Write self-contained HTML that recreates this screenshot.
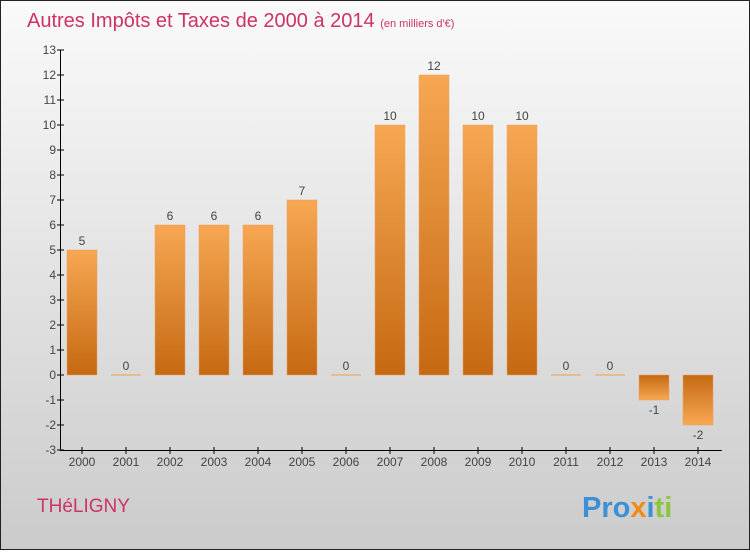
<!DOCTYPE html>
<html><head><meta charset="utf-8"><style>
html,body{margin:0;padding:0}
body{width:750px;height:550px;overflow:hidden;font-family:"Liberation Sans",sans-serif}
</style></head><body>
<svg width="750" height="550" xmlns="http://www.w3.org/2000/svg">
<defs>
<linearGradient id="bg" x1="0" y1="0" x2="0" y2="1"><stop offset="0" stop-color="#fafafa"/><stop offset="1" stop-color="#cbcbcb"/></linearGradient>
<linearGradient id="pos" x1="0" y1="0" x2="0" y2="1"><stop offset="0" stop-color="#f7a752"/><stop offset="1" stop-color="#c56912"/></linearGradient>
<linearGradient id="neg" x1="0" y1="0" x2="0" y2="1"><stop offset="0" stop-color="#c56912"/><stop offset="1" stop-color="#f7a752"/></linearGradient>
</defs>
<rect x="0.5" y="0.5" width="749" height="549" fill="url(#bg)" stroke="#222"/>
<text x="27" y="27" font-size="20" fill="#cc3366">Autres Impôts et Taxes de 2000 à 2014 <tspan font-size="11">(en milliers d'€)</tspan></text>
<text x="37" y="512" font-size="19" fill="#cc3366">THéLIGNY</text>
<text x="582" y="517" font-size="29" font-weight="bold"><tspan fill="#3b8fd4">Pro</tspan><tspan fill="#f08a1a">x</tspan><tspan fill="#3b8fd4">i</tspan><tspan fill="#8cc63e">ti</tspan></text>
<g id="plot"></g>
</svg>
<script>
const categories=["2000","2001","2002","2003","2004","2005","2006","2007","2008","2009","2010","2011","2012","2013","2014"];
const values=[5,0,6,6,6,7,0,10,12,10,10,0,0,-1,-2];
const yTicks=[-3,-2,-1,0,1,2,3,4,5,6,7,8,9,10,11,12,13];
const NS="http://www.w3.org/2000/svg";
const g=document.getElementById('plot');
const y=v=>375-v*25;
const x=i=>82+i*44;
function mk(t,a){const e=document.createElementNS(NS,t);for(const k in a)e.setAttribute(k,a[k]);g.appendChild(e);return e;}
const ax=mk('line',{x1:60.5,y1:50,x2:60.5,y2:450.5,stroke:'#000'});


const bx=mk('line',{x1:60,y1:450.5,x2:722,y2:450.5,stroke:'#000'});


yTicks.forEach(v=>{
 const t=mk('line',{x1:57,x2:64,y1:y(v),y2:y(v),stroke:'#000'});
 
 
 const l=mk('text',{x:56,y:y(v)+4,'text-anchor':'end','font-size':12,fill:'#444'});
 l.textContent=v;
 
 
});
categories.forEach((c,i)=>{
 const t=mk('line',{x1:x(i),x2:x(i),y1:447,y2:454,stroke:'#000'});
 
 
 const l=mk('text',{x:x(i),y:466,'text-anchor':'middle','font-size':12,fill:'#444'});
 l.textContent=c;
 
 
 const v=values[i];
 let b;
 if(v===0){b=mk('rect',{x:x(i)-15,y:374.5,width:30,height:1,fill:'#f0a050'});}
 else{const top=Math.min(y(v),y(0));b=mk('rect',{x:x(i)-15,y:top,width:30,height:Math.abs(y(v)-y(0)),fill:v>0?'url(#pos)':'url(#neg)',stroke:'#e8a060','stroke-width':0.5});}
 
 
 const vl=mk('text',{x:x(i),y:v>=0?y(v)-5:y(v)+14,'text-anchor':'middle','font-size':12,fill:'#444'});
 vl.textContent=v;
 
 
});
</script>
</body></html>
